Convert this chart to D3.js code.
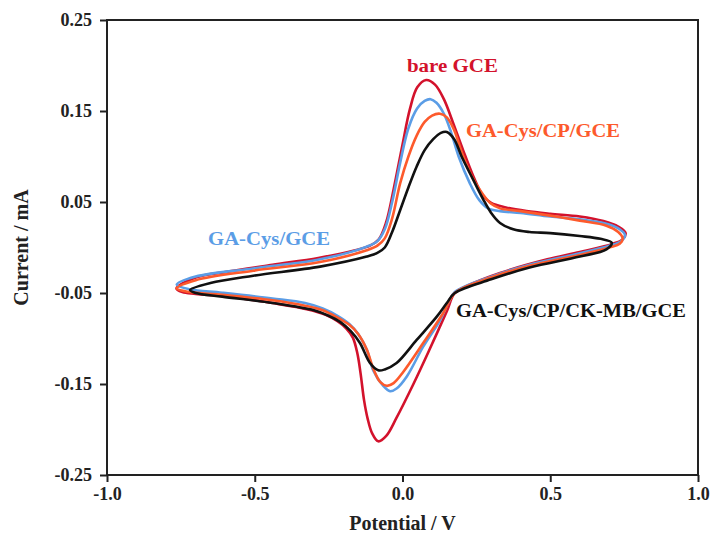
<!DOCTYPE html>
<html lang="en">
<head>
<meta charset="utf-8">
<title>Cyclic voltammograms</title>
<script src="https://d3js.org/d3.v7.min.js"></script>
<style>
  body { margin: 0; background: #fff; }
  svg text { font-family: "Liberation Serif", "Times New Roman", serif; font-weight: bold; fill: #222; }
  .axis line { stroke: #222; stroke-width: 2; }
  .axis path { display: none; }
  .axis text { font-size: 18px; }
</style>
</head>
<body>
<div id="chart"></div>
<script>
// series names in drawing order
var seriesNames = ["bare GCE", "GA-Cys/GCE", "GA-Cys/CP/GCE", "GA-Cys/CP/CK-MB/GCE"];

// bare GCE : potential (V) and current (mA), one closed scan loop
var bareV = [-0.765,-0.70,-0.59,-0.44,-0.285,-0.16,-0.11,-0.08,-0.055,-0.03,0.0,0.025,0.05,0.08,0.11,0.14,0.17,0.205,0.24,0.27,0.30,0.35,0.42,0.50,0.60,0.68,0.73,0.755,
             0.745,0.71,0.60,0.49,0.33,0.22,0.177,0.15,0.093,0.037,-0.02,-0.055,-0.082,-0.103,-0.118,-0.13,-0.142,-0.153,-0.168,-0.19,-0.22,-0.26,-0.32,-0.44,-0.59,-0.70,-0.745];
var bareI = [-0.045,-0.033,-0.0265,-0.019,-0.0115,-0.003,0.002,0.009,0.028,0.064,0.113,0.152,0.176,0.184,0.179,0.163,0.138,0.107,0.078,0.058,0.049,0.044,0.040,0.037,0.034,0.029,0.023,0.016,
             0.009,0.004,-0.005,-0.013,-0.028,-0.042,-0.050,-0.070,-0.111,-0.150,-0.187,-0.207,-0.213,-0.204,-0.188,-0.168,-0.138,-0.116,-0.099,-0.089,-0.081,-0.074,-0.068,-0.061,-0.054,-0.051,-0.049];

// GA-Cys/GCE
var cysV = [-0.764,-0.70,-0.505,-0.279,-0.121,-0.085,-0.06,-0.035,-0.008,0.02,0.05,0.075,0.095,0.115,0.14,0.165,0.19,0.228,0.26,0.29,0.33,0.40,0.50,0.60,0.69,0.735,0.753,
            0.74,0.70,0.60,0.43,0.30,0.177,0.155,0.127,0.07,0.014,-0.02,-0.042,-0.065,-0.099,-0.121,-0.15,-0.18,-0.22,-0.27,-0.33,-0.44,-0.61,-0.72];
var cysI = [-0.041,-0.032,-0.023,-0.013,0.001,0.007,0.020,0.050,0.093,0.131,0.153,0.161,0.163,0.159,0.147,0.126,0.100,0.0705,0.052,0.043,0.040,0.038,0.034,0.031,0.026,0.020,0.0137,
            0.007,0.002,-0.0064,-0.019,-0.032,-0.049,-0.061,-0.080,-0.109,-0.142,-0.155,-0.158,-0.152,-0.135,-0.112,-0.095,-0.084,-0.075,-0.067,-0.061,-0.056,-0.0497,-0.046];

// GA-Cys/CP/GCE
var cpV = [-0.764,-0.70,-0.505,-0.279,-0.121,-0.085,-0.06,-0.035,-0.008,0.02,0.048,0.075,0.10,0.127,0.15,0.175,0.20,0.235,0.273,0.30,0.33,0.40,0.50,0.60,0.69,0.73,0.745,
           0.735,0.70,0.60,0.43,0.30,0.177,0.138,0.07,0.003,-0.03,-0.053,-0.075,-0.099,-0.121,-0.15,-0.18,-0.22,-0.27,-0.33,-0.44,-0.61,-0.72];
var cpI = [-0.045,-0.036,-0.0255,-0.016,-0.003,0.002,0.010,0.032,0.0705,0.100,0.123,0.138,0.145,0.147,0.143,0.129,0.105,0.078,0.058,0.048,0.043,0.040,0.035,0.0295,0.024,0.017,0.010,
           0.004,0.000,-0.0082,-0.020,-0.033,-0.050,-0.072,-0.105,-0.1365,-0.149,-0.152,-0.148,-0.133,-0.112,-0.095,-0.085,-0.077,-0.069,-0.064,-0.058,-0.052,-0.049];

// GA-Cys/CP/CK-MB/GCE
var ckV = [-0.719,-0.65,-0.505,-0.279,-0.121,-0.085,-0.06,-0.035,-0.008,0.02,0.048,0.075,0.104,0.13,0.15,0.175,0.20,0.24,0.273,0.30,0.33,0.375,0.43,0.50,0.60,0.67,0.708,
           0.69,0.60,0.43,0.30,0.177,0.15,0.116,0.048,-0.02,-0.06,-0.082,-0.11,-0.144,-0.175,-0.21,-0.25,-0.30,-0.44,-0.61,-0.70];
var ckI = [-0.0467,-0.039,-0.031,-0.021,-0.010,-0.006,0.000,0.017,0.041,0.066,0.089,0.107,0.119,0.126,0.127,0.119,0.100,0.074,0.053,0.038,0.027,0.020,0.017,0.0158,0.0126,0.0095,0.0053,
           -0.002,-0.010,-0.022,-0.035,-0.050,-0.061,-0.076,-0.1016,-0.127,-0.134,-0.135,-0.127,-0.105,-0.092,-0.082,-0.075,-0.069,-0.061,-0.054,-0.050];

var xTicks = [-1.0, -0.5, 0.0, 0.5, 1.0];
var yTicks = [-0.25, -0.15, -0.05, 0.05, 0.15, 0.25];

var W = 714, H = 535;
var colors = {"bare GCE": "#d3122c", "GA-Cys/GCE": "#5b9de6", "GA-Cys/CP/GCE": "#fd5a2c", "GA-Cys/CP/CK-MB/GCE": "#111111"};
var seriesData = {
  "bare GCE": [bareV, bareI],
  "GA-Cys/GCE": [cysV, cysI],
  "GA-Cys/CP/GCE": [cpV, cpI],
  "GA-Cys/CP/CK-MB/GCE": [ckV, ckI]
};
// label anchor in data units (left edge, baseline) and box width in px
var labels = [
  {name: "bare GCE", v: 0.015, i: 0.193, w: 91},
  {name: "GA-Cys/CP/GCE", v: 0.215, i: 0.121, w: 154},
  {name: "GA-Cys/GCE", v: -0.658, i: 0.003, w: 122},
  {name: "GA-Cys/CP/CK-MB/GCE", v: 0.181, i: -0.0765, w: 230}
];

var svg = d3.select("#chart").append("svg")
  .attr("width", W).attr("height", H);

var x = d3.scaleLinear().domain([-1, 1]).range([107, 698]);
var y = d3.scaleLinear().domain([-0.25, 0.25]).range([475, 20]);

// axes
svg.append("g")
  .attr("class", "axis")
  .attr("transform", "translate(0," + y(-0.25) + ")")
  .call(d3.axisBottom(x).tickValues(xTicks).tickSize(7).tickSizeOuter(0).tickPadding(5)
    .tickFormat(function(d) { return d.toFixed(1); }));

svg.append("g")
  .attr("class", "axis")
  .attr("transform", "translate(" + x(-1) + ",0)")
  .call(d3.axisLeft(y).tickValues(yTicks).tickSize(7).tickSizeOuter(0).tickPadding(8)
    .tickFormat(function(d) { return d.toFixed(2); }));

// curves
var line = d3.line()
  .x(function(d) { return x(d[0]); })
  .y(function(d) { return y(d[1]); })
  .curve(d3.curveCatmullRomClosed.alpha(0.5));

seriesNames.forEach(function(name) {
  var vs = seriesData[name][0], is = seriesData[name][1];
  var pts = vs.map(function(v, k) { return [v, is[k]]; });
  svg.append("path")
    .datum(pts)
    .attr("d", line)
    .attr("fill", "none")
    .attr("stroke", colors[name])
    .attr("stroke-width", 2.6)
    .attr("stroke-linejoin", "round");
});

// frame
svg.append("rect")
  .attr("x", x(-1)).attr("y", y(0.25))
  .attr("width", x(1) - x(-1)).attr("height", y(-0.25) - y(0.25))
  .attr("fill", "none").attr("stroke", "#222").attr("stroke-width", 2);

// series labels
labels.forEach(function(l) {
  svg.append("text")
    .attr("x", x(l.v)).attr("y", y(l.i))
    .attr("textLength", l.w).attr("lengthAdjust", "spacingAndGlyphs")
    .style("font-size", "18px")
    .style("fill", colors[l.name])
    .text(l.name);
});

// axis titles
svg.append("text")
  .attr("x", (x(-1) + x(1)) / 2).attr("y", 530)
  .style("text-anchor", "middle").style("font-size", "20px")
  .text("Potential / V");

svg.append("text")
  .attr("transform", "translate(28," + y(0) + ") rotate(-90)")
  .style("text-anchor", "middle").style("font-size", "20px")
  .text("Current / mA");
</script>
</body>
</html>
